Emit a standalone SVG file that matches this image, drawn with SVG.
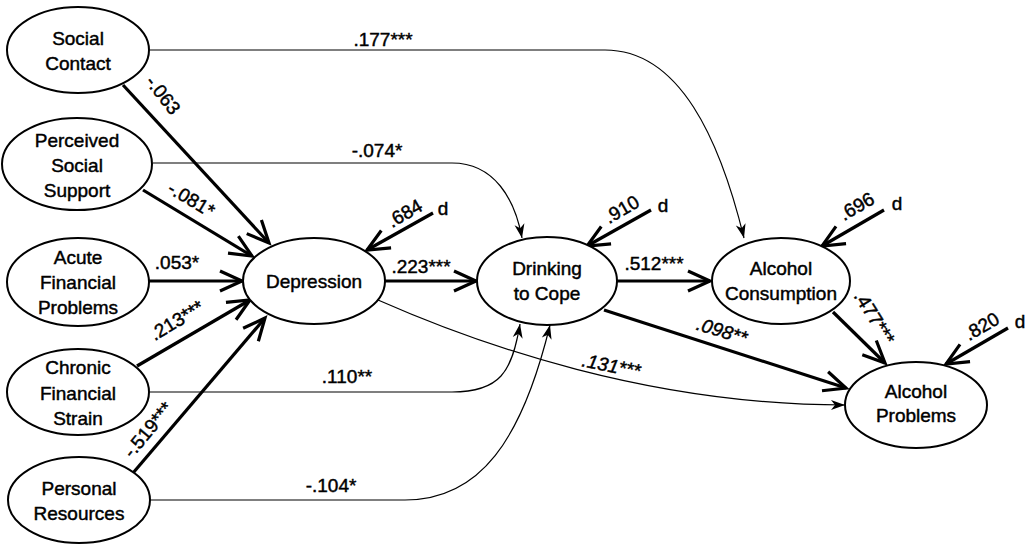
<svg xmlns="http://www.w3.org/2000/svg" width="1031" height="547" viewBox="0 0 1031 547">
<style>
.node ellipse{fill:#fff;stroke:#000;stroke-width:2}
.node text{font-family:"Liberation Sans",Arial,sans-serif;font-size:19px;text-anchor:middle;fill:#000;stroke:#000;stroke-width:0.45}
.thick{fill:none;stroke:#000;stroke-width:3.2;marker-end:url(#open)}
.thin{fill:none;stroke:#000;stroke-width:1.2;marker-end:url(#barb)}
.lbl{font-family:"Liberation Sans",Arial,sans-serif;font-size:19px;text-anchor:middle;fill:#000;stroke:#000;stroke-width:0.45}
.it{font-style:italic}
</style>
<defs>
<marker id="open" markerUnits="userSpaceOnUse" viewBox="-26 -13 30 26" refX="0" refY="0" markerWidth="30" markerHeight="26" orient="auto">
<path d="M-22,-10 L0,0 L-22,10" fill="none" stroke="#000" stroke-width="3.2"/>
</marker>
<marker id="barb" markerUnits="userSpaceOnUse" viewBox="-16 -7 18 14" refX="0" refY="0" markerWidth="18" markerHeight="14" orient="auto">
<path d="M0,0 L-14,-5 L-10,0 L-14,5 Z" fill="#000"/>
</marker>
</defs>
<g id="connectors">
<path class="thick" d="M123,85 L269,243"/>
<path class="thick" d="M143,190 L252,256"/>
<path class="thick" d="M148,281 L242,281"/>
<path class="thick" d="M137,366 L250,300"/>
<path class="thick" d="M133,473 L265,318"/>
<path class="thick" d="M385,281 L476,281"/>
<path class="thick" d="M617,281 L710,281"/>
<path class="thick" d="M833,312 L885,363"/>
<path class="thick" d="M604,310 L846,388"/>
<path class="thick" d="M433,213 L367,250"/>
<path class="thick" d="M651,210 L587,246"/>
<path class="thick" d="M884,210 L822,246"/>
<path class="thick" d="M1008,328 L946,364"/>
<path class="thin" d="M150,50 L605,50 C680,50 720,140 744,238"/>
<path class="thin" d="M153,163 L452,163 C495,163 515,200 522,238"/>
<path class="thin" d="M150,392 L452,392 C500,392 512,372 520,324"/>
<path class="thin" d="M150,500 L405,500 C480,500 522,440 550,325"/>
<path class="thin" d="M378,300 C480,345 650,405 845,405"/>
<text class="lbl" transform="translate(158,99) rotate(52)">-.063</text>
<text class="lbl" transform="translate(188,205) rotate(31)">-.081*</text>
<text class="lbl" x="177" y="269">.053*</text>
<text class="lbl" transform="translate(180,326) rotate(-31)">.213***</text>
<text class="lbl" transform="translate(153,434) rotate(-50)">-.519***</text>
<text class="lbl" x="421" y="273">.223***</text>
<text class="lbl" transform="translate(408,219) rotate(-30)">.684</text>
<text class="lbl" x="443" y="215">d</text>
<text class="lbl" x="654" y="270">.512***</text>
<text class="lbl" transform="translate(625,215) rotate(-30)">.910</text>
<text class="lbl" x="663" y="212">d</text>
<text class="lbl" transform="translate(860,212) rotate(-30)">.696</text>
<text class="lbl" x="897" y="210">d</text>
<text class="lbl" transform="translate(869,321) rotate(58)">.477***</text>
<text class="lbl" transform="translate(985,332) rotate(-30)">.820</text>
<text class="lbl" x="1020" y="328">d</text>
<text class="lbl it" transform="translate(720,337) rotate(17)">.098**</text>
<text class="lbl it" transform="translate(610,372) rotate(11)">.131***</text>
<text class="lbl" x="383" y="46">.177***</text>
<text class="lbl" x="377" y="157">-.074*</text>
<text class="lbl" x="347" y="383">.110**</text>
<text class="lbl" x="331" y="492">-.104*</text>
</g>
<g id="social-contact" class="node"><ellipse cx="78" cy="50" rx="71" ry="43"/><text x="78" y="45">Social</text><text x="78" y="70">Contact</text></g>
<g id="perceived-social-support" class="node"><ellipse cx="77" cy="164" rx="75" ry="46"/><text x="77" y="147">Perceived</text><text x="77" y="172">Social</text><text x="77" y="197">Support</text></g>
<g id="acute-financial-problems" class="node"><ellipse cx="78" cy="282" rx="71" ry="44"/><text x="78" y="264">Acute</text><text x="78" y="289">Financial</text><text x="78" y="314">Problems</text></g>
<g id="chronic-financial-strain" class="node"><ellipse cx="78" cy="392" rx="71" ry="43"/><text x="78" y="374">Chronic</text><text x="78" y="400">Financial</text><text x="78" y="425">Strain</text></g>
<g id="personal-resources" class="node"><ellipse cx="79" cy="500" rx="71" ry="43"/><text x="79" y="495">Personal</text><text x="79" y="520">Resources</text></g>
<g id="depression" class="node"><ellipse cx="314" cy="281" rx="71" ry="43"/><text x="314" y="288">Depression</text></g>
<g id="drinking-to-cope" class="node"><ellipse cx="547" cy="281" rx="70" ry="44"/><text x="547" y="275">Drinking</text><text x="547" y="300">to Cope</text></g>
<g id="alcohol-consumption" class="node"><ellipse cx="781" cy="281" rx="69" ry="43"/><text x="781" y="275">Alcohol</text><text x="781" y="300">Consumption</text></g>
<g id="alcohol-problems" class="node"><ellipse cx="916" cy="405" rx="71" ry="43"/><text x="916" y="398">Alcohol</text><text x="916" y="422">Problems</text></g>
</svg>
